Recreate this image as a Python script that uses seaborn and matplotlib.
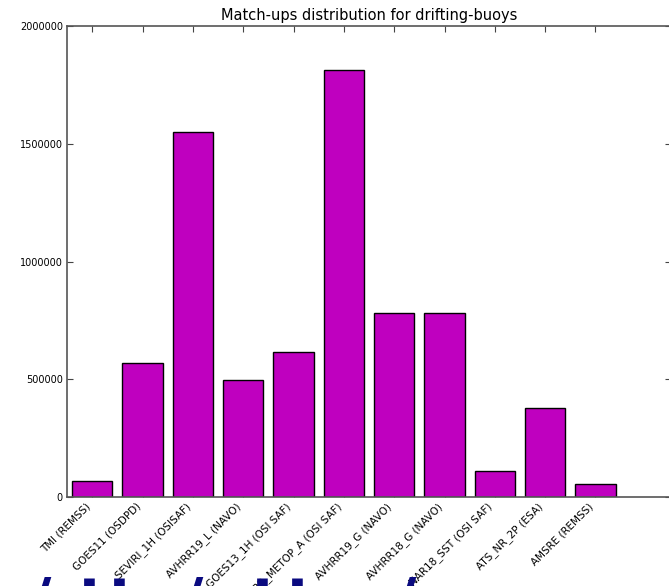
import numpy as np
import pandas as pd
import matplotlib
matplotlib.use("Agg")
import matplotlib.pyplot as plt
import seaborn as sns

# Match-ups per satellite product
products = [
    "TMI (REMSS)", "GOES11 (OSDPD)", "SEVIRI_1H (OSISAF)", "AVHRR19_L (NAVO)",
    "GOES13_1H (OSI SAF)", "AVHRR_METOP_A (OSI SAF)", "AVHRR19_G (NAVO)",
    "AVHRR18_G (NAVO)", "NAR18_SST (OSI SAF)", "ATS_NR_2P (ESA)", "AMSRE (REMSS)",
]
matchups = [68000, 569000, 1548000, 497000, 614000, 1815000,
            780000, 783000, 112000, 380000, 54000]
yticks = [0, 500000, 1000000, 1500000, 2000000]
title = "Match-ups distribution for drifting-buoys"

sns.set_style("ticks")
plt.rcParams["font.family"] = ["DejaVu Sans"]
plt.rcParams["text.color"] = "black"
plt.rcParams["xtick.color"] = "black"
plt.rcParams["ytick.color"] = "black"
plt.rcParams["xtick.direction"] = "in"
plt.rcParams["ytick.direction"] = "in"

df = pd.DataFrame({"product": products, "matchups": matchups})

fig = plt.figure(figsize=(6.69, 5.86), dpi=100)
ax = fig.add_axes([67 / 669, 89 / 586, 604 / 669, 471 / 586])

sns.barplot(data=df, x="product", y="matchups", color="#bf00bf", saturation=1,
            edgecolor="black", linewidth=1, width=0.8, ax=ax)

ax.set_xlim(-0.5, 11.5)
ax.set_ylim(0, 2000000)
ax.set_yticks(yticks)
ax.set_yticklabels([str(v) for v in yticks], fontsize=7)
ax.set_xticks(range(len(products)))
ax.set_xticklabels(products, rotation=45, ha="right", fontsize=7.5)
ax.tick_params(top=True, right=True, length=4, width=0.8, pad=3)
ax.tick_params(colors="#444444", labelcolor="black")
ax.set_xlabel("")
ax.set_ylabel("")
for s in ax.spines.values():
    s.set_visible(True)
    s.set_color("#555555")
    s.set_linewidth(1.2)
ax.set_title(title, fontsize=10.5, pad=4, color="black")

# clipped watermark glyphs at the bottom edge of the screenshot
for ch, xp in [("/", 40), ("t", 92), ("t", 122), ("/", 192),
               ("t", 265), ("t", 300), ("/", 405)]:
    fig.text(xp / 669, -0.082, ch, fontsize=44, color="#0a0a80",
             fontweight="bold", ha="center", va="bottom")

fig.savefig("out.png", dpi=100)
